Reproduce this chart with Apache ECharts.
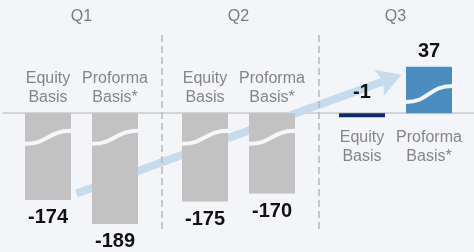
<!DOCTYPE html>
<html>
<head>
<meta charset="utf-8">
<script src="https://cdn.jsdelivr.net/npm/echarts@6/dist/echarts.min.js"></script>
<style>
html,body{margin:0;padding:0;background:#f3f5f8;}
#c{width:474px;height:252px;}
</style>
</head>
<body>
<div id="c"></div>
<script>
// ---- data ----
const quarters = ['Q1', 'Q2', 'Q3'];
const equityValues = [-174, -175, -1];
const proformaValues = [-189, -170, 37];
const seriesLabels = ['Equity\nBasis', 'Proforma\nBasis*'];
const arrowFrom = [0, -170];   // [quarter index, value]
const arrowTo = [2, 32];

// ---- style ----
const FONT = 'Liberation Sans, Arial, sans-serif';
const GREY_BAR = '#c2c2c2';
const NAVY = '#0c2a6c';
const BLUE = '#4b8dc0';
const ARROW = '#c6dcec';
const TEXT_GREY = '#858585';
const BAR_W = 46, BAR_OFF = 33.5, MIN_H = 4;
const BREAK_NEG = -15, BREAK_POS = 12;

const chart = echarts.init(document.getElementById('c'), null, {renderer: 'canvas'});

function groupHasPositive(ci) {
  return equityValues[ci] > 0 || proformaValues[ci] > 0;
}

function makeBarRenderer(sign, seriesIdx) {
  return function (params, api) {
    const ci = api.value(0), v = api.value(1);
    const band = api.size([1, 0])[0];
    const c0 = api.coord([ci, 0]);
    const cx = c0[0] + sign * BAR_OFF;
    const y0 = c0[1];
    let y1 = api.coord([ci, v])[1];
    if (Math.abs(y1 - y0) < MIN_H) y1 = y0 + (v < 0 ? MIN_H : -MIN_H);
    const last = ci === quarters.length - 1;
    const color = last ? (seriesIdx === 0 ? NAVY : BLUE) : GREY_BAR;
    const xL = cx - BAR_W / 2, xR = cx + BAR_W / 2;
    const top = Math.min(y0, y1), h = Math.abs(y1 - y0);
    const children = [];
    children.push({type: 'rect', shape: {x: xL, y: top, width: BAR_W, height: h}, style: {fill: color}});
    // break wave
    const bv = v < 0 ? BREAK_NEG : BREAK_POS;
    if ((v < 0 && v < BREAK_NEG) || (v > 0 && v > BREAK_POS)) {
      const yb = api.coord([ci, bv])[1];
      const a = v < 0 ? 6.5 : 8;
      children.push({type: 'path', shape: {
        pathData: 'M' + xL + ',' + (yb + a) +
          ' C' + (xL + BAR_W * 0.5) + ',' + (yb + a) + ' ' + (xL + BAR_W * 0.5) + ',' + (yb - a) + ' ' + xR + ',' + (yb - a)
      }, style: {fill: null, stroke: '#f6f7f9', lineWidth: 4}});
    }
    const pos = groupHasPositive(ci);
    // value label
    let vy, va;
    if (pos) {
      vy = v >= 0 ? top - 5 : y0 - 11; va = 'bottom';
    } else {
      vy = Math.max(y0, y1) + 8; va = 'top';
    }
    children.push({type: 'text', style: {
      text: String(v), x: cx, y: vy, align: 'center', verticalAlign: va,
      font: 'bold 20px ' + FONT, fill: '#111'
    }});
    // category label
    children.push({type: 'text', style: {
      text: seriesLabels[seriesIdx], x: cx, y: pos ? y0 + 14.5 : y0 - 6,
      align: 'center', verticalAlign: pos ? 'top' : 'bottom',
      font: '16px ' + FONT, lineHeight: 19, fill: TEXT_GREY
    }});
    // dashed separator between quarters
    if (seriesIdx === 0 && ci > 0) {
      const sx = c0[0] - band / 2 + 2;
      children.push({type: 'line', shape: {x1: sx, y1: params.coordSys.y, x2: sx, y2: params.coordSys.y + params.coordSys.height},
        style: {stroke: '#b8b8b8', lineWidth: 1.5, lineDash: [7, 4]}});
    }
    return {type: 'group', children: children};
  };
}

function renderArrow(params, api) {
  const p0 = api.coord([api.value(0), api.value(1)]);
  const p1 = api.coord([api.value(2), api.value(3)]);
  p0[0] -= 5; p1[0] += 6;
  const dx = p1[0] - p0[0], dy = p1[1] - p0[1];
  const len = Math.sqrt(dx * dx + dy * dy);
  const ux = dx / len, uy = dy / len;
  const nx = -uy, ny = ux;
  const headL = 24, headW = 14, notch = 5;
  const bx = p1[0] - ux * headL, by = p1[1] - uy * headL;
  const mx = bx + ux * notch, my = by + uy * notch;
  return {type: 'group', children: [
    {type: 'line', shape: {x1: p0[0], y1: p0[1], x2: mx, y2: my}, style: {stroke: ARROW, lineWidth: 8}},
    {type: 'polygon', shape: {points: [[p1[0], p1[1]], [bx + nx * headW, by + ny * headW], [mx, my], [bx - nx * headW, by - ny * headW]]},
      style: {fill: ARROW}}
  ]};
}

const option = {
  backgroundColor: '#f3f5f8',
  animation: false,
  grid: {left: 3, right: -2, top: 35, bottom: 20, containLabel: false},
  xAxis: [
    {type: 'category', data: quarters, position: 'bottom',
      axisLine: {show: true, onZero: true, lineStyle: {color: '#c9c9c9', width: 1.5}},
      axisTick: {show: false}, axisLabel: {show: false}, splitLine: {show: false}},
    {type: 'category', data: quarters, position: 'top',
      axisLine: {show: false}, axisTick: {show: false},
      axisLabel: {show: true, margin: 10, fontSize: 16, fontFamily: FONT, color: '#7c7c7c'},
      splitLine: {show: false}}
  ],
  yAxis: {
    type: 'value', min: -194, max: 56.75, show: false, splitLine: {show: false},
    breaks: [{start: -135, end: BREAK_NEG, gap: 0}, {start: BREAK_POS, end: 20, gap: 0}],
    breakArea: {show: false}
  },
  series: [
    {type: 'custom', name: 'arrow', z: 1, renderItem: renderArrow,
      encode: {x: [0, 2], y: [1, 3]},
      data: [[arrowFrom[0], arrowFrom[1], arrowTo[0], arrowTo[1]]]},
    {type: 'custom', name: 'Equity Basis', z: 2, renderItem: makeBarRenderer(-1, 0),
      encode: {x: 0, y: 1}, data: equityValues.map((v, i) => [i, v])},
    {type: 'custom', name: 'Proforma Basis*', z: 2, renderItem: makeBarRenderer(1, 1),
      encode: {x: 0, y: 1}, data: proformaValues.map((v, i) => [i, v])}
  ]
};
chart.setOption(option);
</script>
</body>
</html>
